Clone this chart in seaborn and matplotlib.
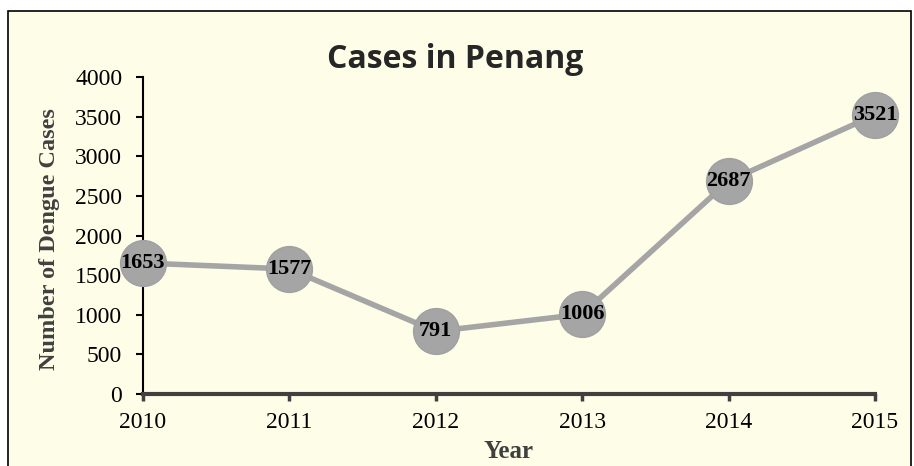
import matplotlib
matplotlib.use("Agg")
from matplotlib import pyplot as plt
from matplotlib.patches import Rectangle
import pandas as pd
import seaborn as sns

years = [2010, 2011, 2012, 2013, 2014, 2015]
cases = [1653, 1577, 791, 1006, 2687, 3521]
y_ticks = [0, 500, 1000, 1500, 2000, 2500, 3000, 3500, 4000]

bg = "#fefee8"
grey = "#a5a5a5"

df = pd.DataFrame({"Year": years, "Cases": cases})

sns.set_style("ticks")
plt.rcParams["font.family"] = ["Liberation Serif", "DejaVu Serif"]

fig = plt.figure(figsize=(9.14, 4.66), dpi=100)
fig.patch.set_facecolor("white")
# framed chart area
fig.patches.append(Rectangle((8 / 914, -0.02), 903 / 914, 1.02 - 11 / 466,
                             transform=fig.transFigure, facecolor=bg,
                             edgecolor="black", linewidth=1.2, zorder=-1))

ax = fig.add_axes([143 / 914, 1 - 394 / 466, (875 - 143) / 914, (394 - 77) / 466])
ax.set_facecolor("none")

sns.lineplot(data=df, x="Year", y="Cases", ax=ax, color=grey, linewidth=4,
             marker="o", markersize=33, markerfacecolor=grey,
             markeredgecolor="#a0a0a0", markeredgewidth=1, clip_on=False,
             zorder=3)

for x, y in zip(years, cases):
    ax.text(x, y, str(y), ha="center", va="center", fontsize=16,
            fontweight="bold", color="black", zorder=5)

ax.set_xlim(years[0], years[-1])
ax.set_ylim(0, 4000)
ax.set_xticks(years)
ax.set_yticks(y_ticks)
ax.tick_params(axis="both", labelsize=17, colors="black", length=5, width=1.5)
ax.tick_params(axis="y", pad=10)
ax.tick_params(axis="x", pad=8, color="#404040", width=2.5)

sns.despine(ax=ax)
ax.spines["left"].set_linewidth(1.5)
ax.spines["left"].set_color("black")
ax.spines["bottom"].set_linewidth(3)
ax.spines["bottom"].set_color("#404040")
for s in ("left", "bottom"):
    ax.spines[s].set_zorder(1)

ax.set_xlabel("Year", fontsize=18, fontweight="bold", color="#404040")
ax.set_ylabel("Number of Dengue Cases", fontsize=17.5, fontweight="bold",
              color="#404040")
ax.xaxis.set_label_coords(0.5, (394 - 440) / 317)
ax.yaxis.set_label_coords((60 - 143) / 732, 0.49)

fig.text(455 / 914, 1 - 60 / 466, "Cases in Penang", ha="center", va="center",
         fontsize=23, fontweight="bold", family=["Open Sans", "DejaVu Sans"])

fig.savefig("out.png", dpi=100, facecolor=fig.get_facecolor())
